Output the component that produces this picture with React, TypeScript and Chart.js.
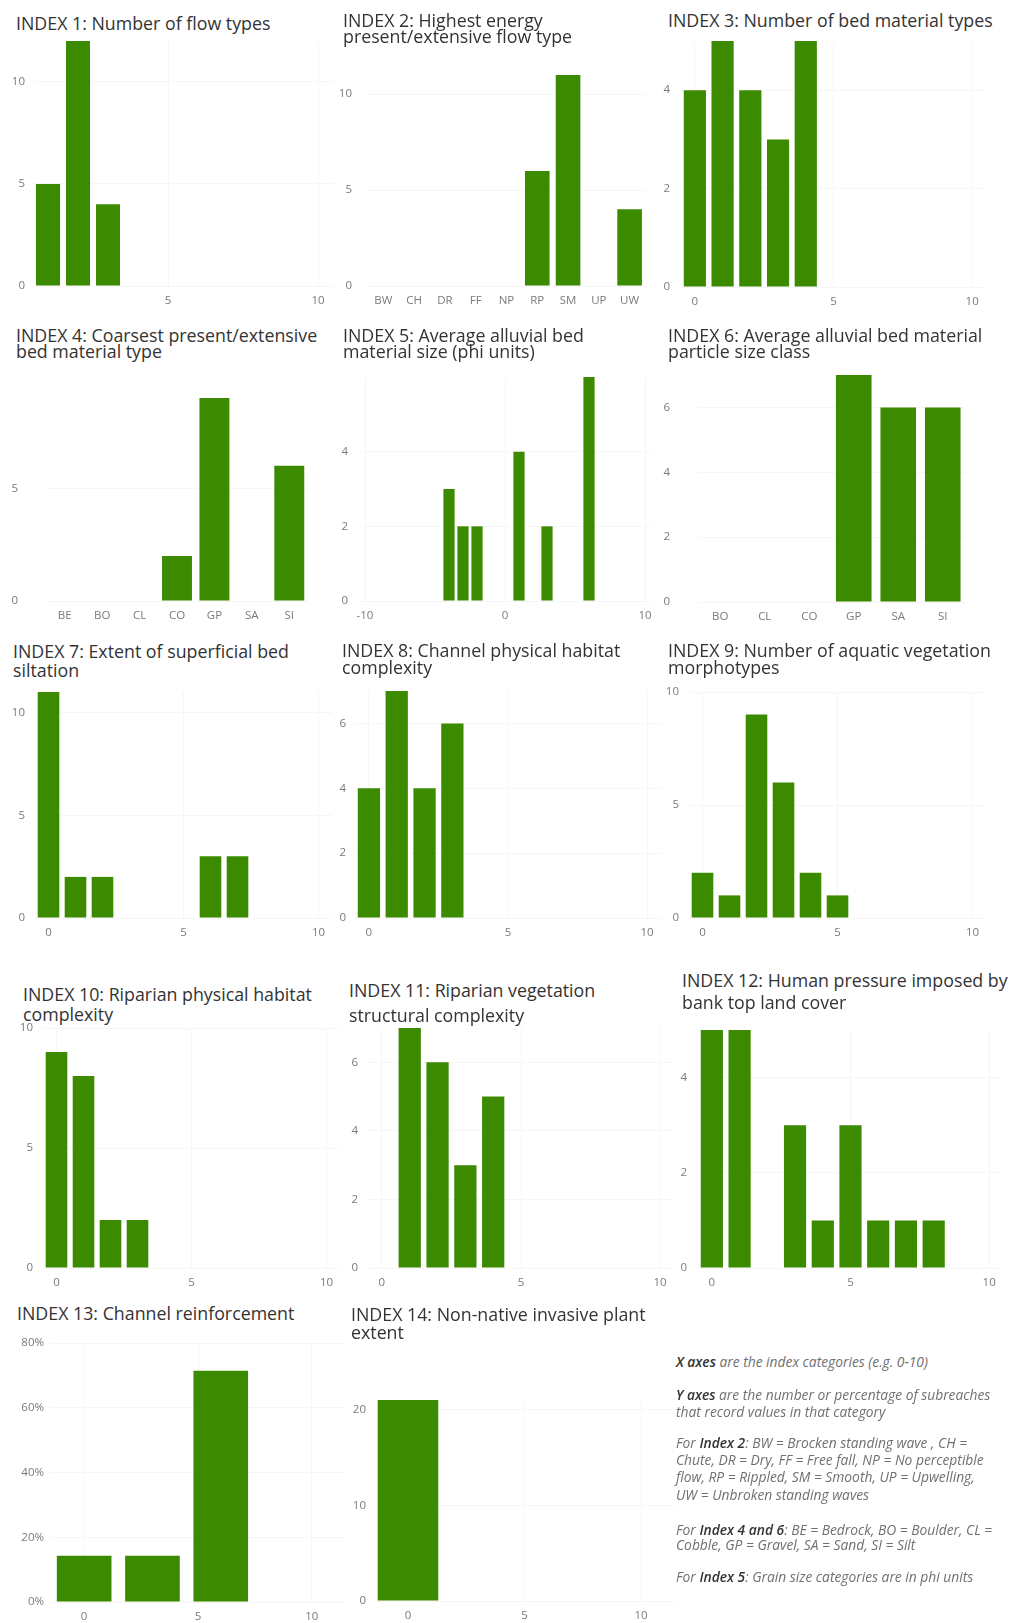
import React, { useEffect, useRef } from 'react';
import { Chart, registerables } from 'chart.js';

Chart.register(...registerables);

// ---------- survey data (counts of subreaches per index category) ----------
const flowTypeClasses = [1, 2, 3];
const flowTypeCounts = [5, 12, 4];

const flowTypeCodes = ['BW', 'CH', 'DR', 'FF', 'NP', 'RP', 'SM', 'UP', 'UW'];
const highestFlowCounts = [0, 0, 0, 0, 0, 6, 11, 0, 4];

const bedTypeClasses = [0, 1, 2, 3, 4];
const bedTypeCounts = [4, 5, 4, 3, 5];

const coarsestCodes = ['BE', 'BO', 'CL', 'CO', 'GP', 'SA', 'SI'];
const coarsestCounts = [0, 0, 0, 2, 9, 0, 6];

const phiClasses = [-4, -3, -2, 1, 3, 6];
const phiCounts = [3, 2, 2, 4, 2, 6];

const sizeClassCodes = ['BO', 'CL', 'CO', 'GP', 'SA', 'SI'];
const sizeClassCounts = [0, 0, 0, 7, 6, 6];

const siltationClasses = [0, 1, 2, 6, 7];
const siltationCounts = [11, 2, 2, 3, 3];

const channelHabitatClasses = [0, 1, 2, 3];
const channelHabitatCounts = [4, 7, 4, 6];

const aquaticVegClasses = [0, 1, 2, 3, 4, 5];
const aquaticVegCounts = [2, 1, 9, 6, 2, 1];

const riparianHabitatClasses = [0, 1, 2, 3];
const riparianHabitatCounts = [9, 8, 2, 2];

const riparianVegClasses = [1, 2, 3, 4];
const riparianVegCounts = [7, 6, 3, 5];

const landCoverClasses = [0, 1, 3, 4, 5, 6, 7, 8];
const landCoverCounts = [5, 5, 3, 1, 3, 1, 1, 1];

const reinforcementClasses = [0, 3, 6];
const reinforcementPercents = [14.3, 14.3, 71.4];

const invasiveClasses = [0];
const invasiveCounts = [21];

// ---------- tick labels ----------
const classTicks = [0, 5, 10];
const phiTicks = [-10, 0, 10];
const yTicks5 = [0, 5, 10];
const yTicks2 = [0, 2, 4];
const yTicks2to6 = [0, 2, 4, 6];
const yTicksPct = [0, 20, 40, 60, 80];
const yTicks10 = [0, 10, 20];

// ---------- styling ----------
const GREEN = '#3b8a00';
const GRID = '#f6f6f6';
const TICK = '#7a7a7a';
const FONT = "'Open Sans', 'Noto Sans', sans-serif";
const AXW = 60; // width reserved for the value axis
const PT = 12; // space above the plot area
const PR = 14; // space right of the plot area
const XAH = 26; // height of the category axis

type Panel = {
  title: string[];
  titleX: number;
  baselines: number[];
  box: [number, number, number, number];
  yGap: number;
  labels?: string[];
  xs?: number[];
  values: number[];
  xMin?: number;
  xMax?: number;
  xTicks?: number[];
  yMax: number;
  yTicks: number[];
  percent?: boolean;
  barPct?: number;
};

const panels: Panel[] = [
  { title: ['INDEX 1: Number of flow types'], titleX: 16, baselines: [30], box: [33, 41, 333, 286], yGap: 8,
    xs: flowTypeClasses, values: flowTypeCounts, xMin: 0.5, xMax: 10.5, xTicks: classTicks, yMax: 12, yTicks: yTicks5 },
  { title: ['INDEX 2: Highest energy', 'present/extensive flow type'], titleX: 343, baselines: [27, 43], box: [368, 75, 645, 286], yGap: 16,
    labels: flowTypeCodes, values: highestFlowCounts, yMax: 11, yTicks: yTicks5 },
  { title: ['INDEX 3: Number of bed material types'], titleX: 668, baselines: [27], box: [681, 41, 986, 287], yGap: 11,
    xs: bedTypeClasses, values: bedTypeCounts, xMin: -0.5, xMax: 10.5, xTicks: classTicks, yMax: 5, yTicks: yTicks2 },
  { title: ['INDEX 4: Coarsest present/extensive', 'bed material type'], titleX: 16, baselines: [342, 358], box: [46, 398, 308, 601], yGap: 28,
    labels: coarsestCodes, values: coarsestCounts, yMax: 9, yTicks: [0, 5] },
  { title: ['INDEX 5: Average alluvial bed', 'material size (phi units)'], titleX: 343, baselines: [342, 358], box: [358, 377, 652, 601], yGap: 10,
    xs: phiClasses, values: phiCounts, xMin: -10.5, xMax: 10.5, xTicks: phiTicks, yMax: 6, yTicks: yTicks2 },
  { title: ['INDEX 6: Average alluvial bed material', 'particle size class'], titleX: 668, baselines: [342, 358], box: [698, 375, 965, 602], yGap: 28,
    labels: sizeClassCodes, values: sizeClassCounts, yMax: 7, yTicks: yTicks2to6 },
  { title: ['INDEX 7: Extent of superficial bed', 'siltation'], titleX: 13, baselines: [658, 677], box: [35, 692, 332, 918], yGap: 10,
    xs: siltationClasses, values: siltationCounts, xMin: -0.5, xMax: 10.5, xTicks: classTicks, yMax: 11, yTicks: yTicks5 },
  { title: ['INDEX 8: Channel physical habitat', 'complexity'], titleX: 342, baselines: [657, 674], box: [355, 691, 661, 918], yGap: 9,
    xs: channelHabitatClasses, values: channelHabitatCounts, xMin: -0.5, xMax: 10.5, xTicks: classTicks, yMax: 7, yTicks: yTicks2to6 },
  { title: ['INDEX 9: Number of aquatic vegetation', 'morphotypes'], titleX: 668, baselines: [657, 674], box: [689, 692, 986, 918], yGap: 10,
    xs: aquaticVegClasses, values: aquaticVegCounts, xMin: -0.5, xMax: 10.5, xTicks: classTicks, yMax: 10, yTicks: yTicks5 },
  { title: ['INDEX 10: Riparian physical habitat', 'complexity'], titleX: 23, baselines: [1001, 1021], box: [43, 1028, 340, 1268], yGap: 10,
    xs: riparianHabitatClasses, values: riparianHabitatCounts, xMin: -0.5, xMax: 10.5, xTicks: classTicks, yMax: 10, yTicks: yTicks5 },
  { title: ['INDEX 11: Riparian vegetation', 'structural complexity'], titleX: 349, baselines: [997, 1022], box: [368, 1028, 674, 1268], yGap: 10,
    xs: riparianVegClasses, values: riparianVegCounts, xMin: -0.5, xMax: 10.5, xTicks: classTicks, yMax: 7, yTicks: yTicks2to6 },
  { title: ['INDEX 12: Human pressure imposed by', 'bank top land cover'], titleX: 682, baselines: [987, 1009], box: [698, 1030, 1003, 1268], yGap: 11,
    xs: landCoverClasses, values: landCoverCounts, xMin: -0.5, xMax: 10.5, xTicks: classTicks, yMax: 5, yTicks: yTicks2 },
  { title: ['INDEX 13: Channel reinforcement'], titleX: 17, baselines: [1320], box: [50, 1343, 346, 1602], yGap: 6,
    xs: reinforcementClasses, values: reinforcementPercents, xMin: -1.5, xMax: 11.5, xTicks: classTicks, yMax: 80, yTicks: yTicksPct, percent: true },
  { title: ['INDEX 14: Non-native invasive plant', 'extent'], titleX: 351, baselines: [1321, 1339], box: [373, 1400, 676, 1601], yGap: 7,
    xs: invasiveClasses, values: invasiveCounts, xMin: -1.5, xMax: 11.5, xTicks: classTicks, yMax: 21, yTicks: yTicks10, barPct: 0.52 },
];

// notes block: each line is a list of [text, bold] runs
const notes: [string, boolean][][] = [
  [['X axes', true], [' are the index categories (e.g. 0-10)', false]],
  [['Y axes', true], [' are the number or percentage of subreaches', false]],
  [['that record values in that category', false]],
  [['For ', false], ['Index 2', true], [': BW = Brocken standing wave , CH =', false]],
  [['Chute, DR = Dry, FF = Free fall, NP = No perceptible', false]],
  [['flow, RP = Rippled, SM = Smooth, UP = Upwelling,', false]],
  [['UW = Unbroken standing waves', false]],
  [['For ', false], ['Index 4 and 6', true], [': BE = Bedrock, BO = Boulder, CL =', false]],
  [['Cobble, GP = Gravel, SA = Sand, SI = Silt', false]],
  [['For ', false], ['Index 5', true], [': Grain size categories are in phi units', false]],
];
const noteBaselines = [1367, 1400, 1417, 1448, 1465, 1482, 1500, 1535, 1550, 1582];

function BarPanel({ p }: { p: Panel }) {
  const ref = useRef<HTMLCanvasElement>(null);
  const [L, T, R, B] = p.box;
  const w = AXW + (R - L) + PR;
  const h = PT + (B - T) + XAH;

  useEffect(() => {
    if (!ref.current) return;
    const isCat = !!p.labels;
    const tickFont = { family: FONT, size: 11.5 };
    const dataset: any = {
      data: isCat ? p.values : p.xs!.map((x, i) => ({ x, y: p.values[i] })),
      backgroundColor: GREEN,
      borderWidth: 0,
      categoryPercentage: isCat ? 0.8 : 1,
      barPercentage: isCat ? 1 : p.barPct ?? 0.8,
    };
    const xScale: any = isCat
      ? {
          type: 'category',
          offset: true,
          grid: { display: false, drawTicks: false },
          border: { display: false },
          ticks: { color: TICK, font: tickFont, padding: 8, autoSkip: false, maxRotation: 0 },
          afterFit: (s: any) => { s.height = XAH; },
        }
      : {
          type: 'linear',
          min: p.xMin,
          max: p.xMax,
          offset: false,
          grid: { color: GRID, drawTicks: false, offset: false },
          border: { display: false },
          ticks: { color: TICK, font: tickFont, padding: 8 },
          afterBuildTicks: (s: any) => {
            s.ticks = p.xTicks!.filter((v) => v >= s.min && v <= s.max).map((v) => ({ value: v }));
          },
          afterFit: (s: any) => { s.height = XAH; },
        };
    const chart = new Chart(ref.current, {
      type: 'bar',
      data: isCat ? { labels: p.labels, datasets: [dataset] } : { datasets: [dataset] },
      options: {
        animation: false,
        responsive: false,
        devicePixelRatio: 1,
        layout: { padding: { left: 0, top: PT, right: PR, bottom: 0 } },
        plugins: { legend: { display: false }, tooltip: { enabled: false }, title: { display: false } },
        scales: {
          x: xScale,
          y: {
            type: 'linear',
            min: 0,
            max: p.yMax,
            grid: { color: GRID, drawTicks: true, tickLength: p.yGap, tickColor: 'rgba(0,0,0,0)' },
            border: { display: false },
            ticks: {
              color: TICK,
              font: tickFont,
              padding: 0,
              callback: (v: any) => (p.percent ? `${v}%` : `${v}`),
            },
            afterBuildTicks: (s: any) => {
              s.ticks = p.yTicks.map((v) => ({ value: v }));
            },
            afterFit: (s: any) => { s.width = AXW; },
          } as any,
        },
      },
    });
    return () => chart.destroy();
  }, []);

  return (
    <canvas
      ref={ref}
      width={w}
      height={h}
      style={{ position: 'absolute', left: L - AXW, top: T - PT, width: w, height: h }}
    />
  );
}

const TITLE_SIZE = 17.8;
const TITLE_LH = 20;
const TITLE_BASE = 16.9; // baseline offset inside a title line box
const NOTE_SIZE = 13.8;

export default function App() {
  return (
    <div
      style={{
        position: 'absolute',
        left: 0,
        top: 0,
        width: 1014,
        height: 1623,
        overflow: 'hidden',
        background: '#ffffff',
        fontFamily: FONT,
      }}
    >
      {panels.map((p, i) => (
        <React.Fragment key={i}>
          {p.title.map((line, j) => (
            <div
              key={j}
              style={{
                position: 'absolute',
                left: p.titleX,
                top: p.baselines[j] - TITLE_BASE,
                fontSize: TITLE_SIZE,
                lineHeight: `${TITLE_LH}px`,
                color: '#333333',
                whiteSpace: 'nowrap',
              }}
            >
              {line}
            </div>
          ))}
          <BarPanel p={p} />
        </React.Fragment>
      ))}
      {notes.map((runs, i) => (
        <div
          key={`n${i}`}
          style={{
            position: 'absolute',
            left: 676,
            top: noteBaselines[i] - 13.5,
            fontSize: NOTE_SIZE,
            lineHeight: '16px',
            fontStyle: 'italic',
            color: '#707070',
            whiteSpace: 'nowrap',
          }}
        >
          {runs.map(([t, b], k) => (
            <span key={k} style={b ? { fontWeight: 600, color: '#333333' } : undefined}>
              {t}
            </span>
          ))}
        </div>
      ))}
    </div>
  );
}
